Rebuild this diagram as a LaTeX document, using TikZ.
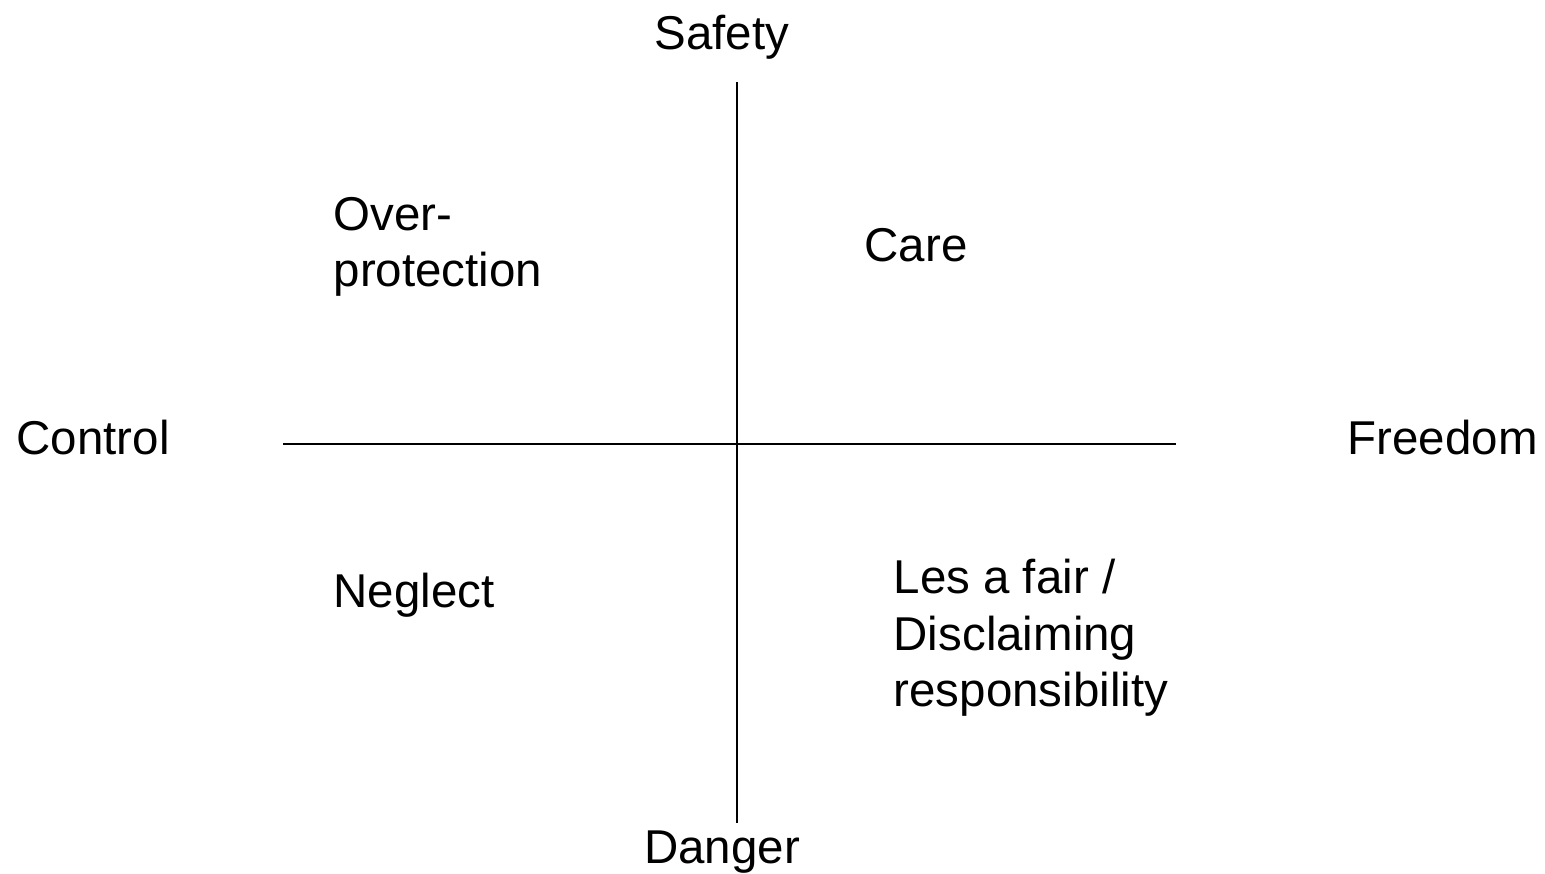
\documentclass[tikz,border=0pt]{standalone}
\usepackage{fontspec}
\setmainfont{Liberation Sans}
\begin{document}
\begin{tikzpicture}[x=0.01cm,y=-0.01cm,
  lbl/.style={inner sep=0pt, font=\fontsize{13.5}{16.2}\selectfont, align=left},
  axis/.style={line width=0.5pt, black}]
\useasboundingbox (0,0) rectangle (1545,874);
\coordinate (top) at (737,82);
\coordinate (bot) at (737,823);
\coordinate (left) at (283,444);
\coordinate (right) at (1176,444);
\draw[axis] (top) -- (bot);
\draw[axis] (left) -- (right);
\node[lbl, anchor=base] (safety) at (722,50) {Safety};
\node[lbl, anchor=base] (danger) at (722,864) {Danger};
\node[lbl, anchor=base west] (control) at (16,455) {Control};
\node[lbl, anchor=base west] (freedom) at (1347,455) {Freedom};
\node[lbl, anchor=base west] (over) at (333,287) {Over-\\protection};
\node[lbl, anchor=base west] (care) at (864,262) {Care};
\node[lbl, anchor=base west] (neglect) at (333,608) {Neglect};
\node[lbl, anchor=base west] (les) at (893,707) {Les a fair /\\Disclaiming\\responsibility};
\end{tikzpicture}
\end{document}
